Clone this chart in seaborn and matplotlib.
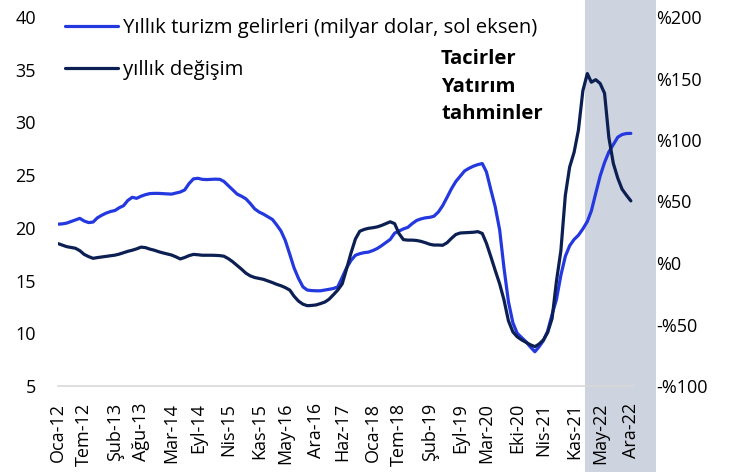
import pandas as pd
import numpy as np
import matplotlib
matplotlib.use("Agg")
import matplotlib.pyplot as plt
import matplotlib.dates as mdates
import matplotlib.transforms as mtransforms
from matplotlib.patches import Rectangle
import seaborn as sns

# ---- data ----
months = pd.date_range("2012-01-01", "2022-12-01", freq="MS")

# yearly tourism revenue, bn USD (left axis)
revenue = [
    20.35, 20.38, 20.45, 20.6, 20.75, 20.9, 20.65, 20.5, 20.55, 20.95, 21.2, 21.4,
    21.55, 21.65, 21.9, 22.1, 22.6, 22.9, 22.8, 23.0, 23.15, 23.25, 23.27, 23.27,
    23.25, 23.22, 23.2, 23.3, 23.4, 23.6, 24.2, 24.65, 24.7, 24.6, 24.58, 24.6,
    24.62, 24.6, 24.4, 24.0, 23.6, 23.2, 23.0, 22.75, 22.3, 21.8, 21.5, 21.3,
    21.05, 20.8, 20.3, 19.7, 18.8, 17.5, 16.2, 15.2, 14.4, 14.1, 14.05, 14.03,
    14.03, 14.1, 14.17, 14.25, 14.4, 15.3, 16.2, 16.9, 17.4, 17.55, 17.65, 17.7,
    17.85, 18.05, 18.3, 18.6, 18.9, 19.5, 19.7, 19.9, 20.05, 20.4, 20.7, 20.85,
    20.95, 21.0, 21.1, 21.5, 22.1, 22.9, 23.7, 24.4, 24.9, 25.4, 25.65, 25.85,
    26.0, 26.1, 25.3, 23.6, 22.0, 19.8, 16.2, 13.0, 11.0, 10.0, 9.6, 9.2,
    8.7, 8.25, 8.7, 9.3, 10.2, 11.8, 13.2, 15.5, 17.3, 18.3, 18.9, 19.3,
    19.9, 20.6, 21.6, 23.3, 24.9, 26.2, 27.2, 27.9, 28.6, 28.85, 28.95, 28.96,
]

# yearly change, % (right axis)
change = [
    15.8, 14.5, 13.3, 12.6, 12.0, 10.0, 7.0, 5.2, 3.8, 4.4, 4.9, 5.3,
    5.8, 6.4, 7.2, 8.4, 9.5, 10.4, 11.5, 12.9, 12.5, 11.3, 10.4, 9.2,
    8.2, 7.3, 6.5, 5.0, 3.3, 4.5, 6.0, 7.0, 6.7, 6.3, 6.3, 6.3,
    6.2, 6.0, 5.5, 3.5, 1.0, -2.0, -5.0, -8.3, -10.5, -11.8, -12.6, -13.3,
    -14.6, -15.9, -17.3, -18.5, -20.0, -22.0, -27.0, -31.0, -33.5, -34.7, -34.5, -34.1,
    -33.0, -31.7, -29.5, -25.8, -22.0, -17.0, -5.0, 8.0, 19.5, 25.8, 27.3, 28.2,
    28.7, 29.4, 30.5, 32.0, 33.5, 32.0, 24.0, 19.0, 18.6, 18.6, 18.3, 17.6,
    16.5, 15.2, 14.6, 14.6, 14.4, 16.5, 20.0, 23.2, 24.4, 24.6, 24.8, 25.0,
    25.5, 24.0, 16.0, 5.0, -6.0, -17.0, -30.0, -47.0, -56.0, -60.0, -62.5, -64.5,
    -66.5, -68.0, -66.0, -62.6, -56.5, -45.0, -15.0, 10.0, 55.0, 78.0, 90.0, 108.0,
    140.0, 154.0, 147.0, 149.0, 146.0, 138.0, 102.0, 81.0, 69.0, 60.0, 55.0, 50.5,
]

tick_dates = ["2012-01-01", "2012-07-01", "2013-02-01", "2013-08-01", "2014-03-01",
              "2014-09-01", "2015-04-01", "2015-11-01", "2016-05-01", "2016-12-01",
              "2017-06-01", "2018-01-01", "2018-07-01", "2019-02-01", "2019-09-01",
              "2020-03-01", "2020-10-01", "2021-04-01", "2021-11-01", "2022-05-01",
              "2022-12-01"]
tick_labels = ["Oca-12", "Tem-12", "Şub-13", "Ağu-13", "Mar-14", "Eyl-14", "Nis-15",
               "Kas-15", "May-16", "Ara-16", "Haz-17", "Oca-18", "Tem-18", "Şub-19",
               "Eyl-19", "Mar-20", "Eki-20", "Nis-21", "Kas-21", "May-22", "Ara-22"]

left_ticks = [5, 10, 15, 20, 25, 30, 35, 40]
right_ticks = [-100, -50, 0, 50, 100, 150, 200]
right_labels = ["-%100", "-%50", "%0", "%50", "%100", "%150", "%200"]

forecast_start = "2022-01-16"
forecast_end = "2023-05-22"

df = pd.DataFrame({"month": months, "revenue": revenue, "change": change})

# ---- style ----
sns.set_theme(style="white")
plt.rcParams["font.family"] = ["Open Sans", "DejaVu Sans"]
plt.rcParams["text.color"] = "black"
FS = 13
FS_LEG = 14.6

BLUE = "#2438E0"
NAVY = "#0B1F52"
SHADE = "#CED3E0"

fig = plt.figure(figsize=(7.34, 4.72), dpi=100)
ax = fig.add_axes([58 / 734, 1 - 386 / 472, 575 / 734, 369 / 472])
ax2 = ax.twinx()

sns.lineplot(data=df, x="month", y="revenue", ax=ax, color=BLUE, linewidth=2.3,
             label="Yıllık turizm gelirleri (milyar dolar, sol eksen)", legend=False)
sns.lineplot(data=df, x="month", y="change", ax=ax2, color=NAVY, linewidth=2.3,
             label="yıllık değişim", legend=False)

# forecast shading over full figure height
trans = mtransforms.blended_transform_factory(ax.transData, fig.transFigure)
x0 = mdates.date2num(pd.Timestamp(forecast_start))
x1 = mdates.date2num(pd.Timestamp(forecast_end))
ax.add_patch(Rectangle((x0, 0), x1 - x0, 1, transform=trans, color=SHADE,
                       clip_on=False, zorder=0, linewidth=0))

ax.set_xlim(months[0], months[-1] + pd.Timedelta(days=15))
ax.set_ylim(5, 40)
ax2.set_ylim(-100, 200)

ax.set_yticks(left_ticks)
ax.set_yticklabels([str(t) for t in left_ticks], fontsize=FS)
ax2.set_yticks(right_ticks)
ax2.set_yticklabels(right_labels, fontsize=FS)
ax.set_xticks(pd.to_datetime(tick_dates))
ax.set_xticklabels(tick_labels, rotation=90, fontsize=FS)

ax.tick_params(axis="y", length=0, pad=16, colors="black")
ax.tick_params(axis="x", length=0, pad=12, colors="black")
ax2.tick_params(axis="y", length=0, pad=17, colors="black")
ax.set_xlabel("")
ax.set_ylabel("")
ax2.set_ylabel("")

for a in (ax, ax2):
    for s in ["top", "right", "left", "bottom"]:
        a.spines[s].set_visible(False)
ax.spines["bottom"].set_visible(True)
ax.spines["bottom"].set_color("#D9D9D9")
ax.spines["bottom"].set_linewidth(1.2)
ax.grid(False)
ax2.grid(False)

h1, l1 = ax.get_legend_handles_labels()
h2, l2 = ax2.get_legend_handles_labels()
leg = ax2.legend(h1 + h2, l1 + l2, loc="upper left", bbox_to_anchor=(0.012, 0.998),
                 frameon=False, fontsize=FS_LEG, handlelength=2.6, handletextpad=0.25,
                 labelspacing=1.1, borderaxespad=0, borderpad=0)
for t in leg.get_texts():
    t.set_color("black")

fig.text(441 / 734, 1 - 49 / 472, "Tacirler\nYatırım\ntahminler", fontsize=FS_LEG,
         fontweight="bold", va="top", ha="left", linespacing=1.5, color="black")

fig.savefig("out.png", dpi=100)
